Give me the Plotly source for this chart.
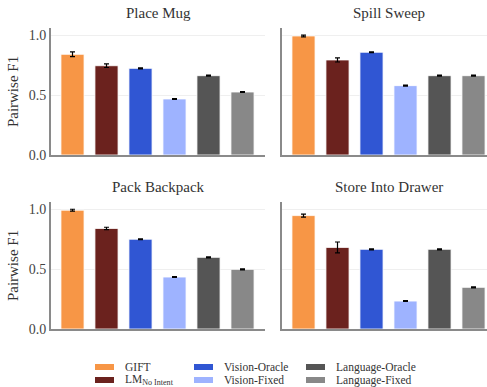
import plotly.graph_objects as go

# Methods, in plotting order
methods = ["GIFT", "LM<sub>No Intent</sub>", "Vision-Oracle", "Vision-Fixed",
           "Language-Oracle", "Language-Fixed"]
colors = ["#F79646", "#6B221E", "#3056D3", "#9EB3FF", "#555555", "#888888"]

tasks = ["Place Mug", "Spill Sweep", "Pack Backpack", "Store Into Drawer"]

# Pairwise F1 (mean) per task, one entry per method
place_mug = [0.839, 0.744, 0.722, 0.467, 0.661, 0.525]
spill_sweep = [0.992, 0.792, 0.856, 0.578, 0.661, 0.661]
pack_backpack = [0.990, 0.838, 0.748, 0.433, 0.597, 0.497]
store_into_drawer = [0.945, 0.680, 0.664, 0.233, 0.664, 0.347]

# Error bar half-widths
place_mug_err = [0.020, 0.015, 0.004, 0.004, 0.004, 0.004]
spill_sweep_err = [0.007, 0.017, 0.004, 0.004, 0.004, 0.004]
pack_backpack_err = [0.008, 0.010, 0.004, 0.004, 0.004, 0.004]
store_into_drawer_err = [0.013, 0.045, 0.004, 0.004, 0.004, 0.004]

values = [place_mug, spill_sweep, pack_backpack, store_into_drawer]
errors = [place_mug_err, spill_sweep_err, pack_backpack_err, store_into_drawer_err]

y_ticks = [0.0, 0.5, 1.0]
y_tick_text = ["0.0", "0.5", "1.0"]

W, H = 487, 387
FONT = "'Liberation Serif', serif"
AXIS_GRAY = "#8a8a8a"

# pixel layout of the 2x2 panel grid
col_px = [(51, 265), (282, 496)]
row_px = [(28, 155), (202, 329)]

fig = go.Figure()
x_idx = list(range(len(methods)))

for k, task in enumerate(tasks):
    r, c = divmod(k, 2)
    n = k + 1
    xa = "x" if n == 1 else f"x{n}"
    ya = "y" if n == 1 else f"y{n}"
    fig.add_trace(go.Bar(
        x=x_idx, y=values[k], xaxis=xa, yaxis=ya,
        marker=dict(color=colors, line=dict(color="rgba(255,255,255,0.8)", width=1)),
        error_y=dict(type="data", array=errors[k], color="black", thickness=1.2, width=2.5),
        showlegend=False, hoverinfo="skip",
    ))

    x0, x1 = col_px[c]
    y0, y1 = row_px[r]
    x1_vis = min(x1, W)
    # bar centres at 34 px spacing, first bar 21.5 px right of the axis
    lo = -21.5 / 34
    hi = lo + (x1_vis - x0) / 34
    xkey = "xaxis" if n == 1 else f"xaxis{n}"
    ykey = "yaxis" if n == 1 else f"yaxis{n}"
    yaxis = dict(domain=[1 - y1 / H, 1 - y0 / H], range=[0, (y1 - y0) / 120], anchor=xa,
                 tickvals=y_ticks, ticktext=y_tick_text, showticklabels=(c == 0),
                 tickfont=dict(size=14, color="#444444", family=FONT), ticks="",
                 showgrid=True, gridcolor="#efefef", gridwidth=1, zeroline=False,
                 showline=True, linecolor=AXIS_GRAY, linewidth=2, fixedrange=True,
                 automargin=False)
    if c == 0:
        yaxis["title"] = dict(text="Pairwise F1",
                              font=dict(size=15, color="#333333", family=FONT), standoff=6)
    fig.update_layout({
        xkey: dict(domain=[x0 / W, x1_vis / W], range=[lo, hi], anchor=ya,
                   showticklabels=False, ticks="", showgrid=False, zeroline=False,
                   showline=True, linecolor=AXIS_GRAY, linewidth=2, fixedrange=True,
                   automargin=False),
        ykey: yaxis,
    })
    fig.add_annotation(text=task, xref="paper", yref="paper",
                       x=(x0 + x1) / 2 / W, y=1 - (y0 - 15) / H,
                       xanchor="center", yanchor="middle", showarrow=False,
                       font=dict(size=15, color="#333333", family=FONT))

# Legend: three columns, two rows (column-major)
leg_cols = [95, 194, 306]
leg_rows = [367, 380]
for i, (name, col) in enumerate(zip(methods, colors)):
    cx = leg_cols[i // 2]
    cy = leg_rows[i % 2]
    fig.add_shape(type="rect", xref="paper", yref="paper",
                  x0=cx / W, x1=(cx + 19) / W, y0=1 - (cy + 3) / H, y1=1 - (cy - 3) / H,
                  fillcolor=col, line=dict(width=0))
    fig.add_annotation(text=name, xref="paper", yref="paper",
                       x=(cx + 28) / W, y=1 - cy / H, xanchor="left", yanchor="middle",
                       showarrow=False, font=dict(size=11.5, color="#333333", family=FONT))

fig.update_layout(
    width=W, height=H, margin=dict(l=0, r=0, t=0, b=0, autoexpand=False),
    paper_bgcolor="white", plot_bgcolor="white",
    bargap=0.32, font=dict(family=FONT),
)

fig.write_html("out.html", config={"displayModeBar": False})
